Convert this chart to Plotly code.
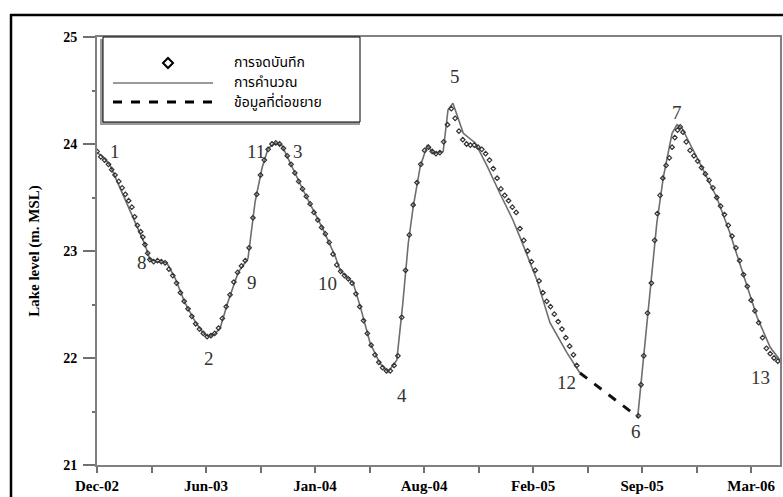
import plotly.graph_objects as go

# ---------------- data ----------------
obs_dates = [
    "2002-12-11", "2002-12-18", "2002-12-25", "2003-01-01", "2003-01-07", "2003-01-13", "2003-01-20",
    "2003-01-26", "2003-02-01", "2003-02-07", "2003-02-13", "2003-02-18", "2003-02-23", "2003-03-01",
    "2003-03-05", "2003-03-09", "2003-03-14", "2003-03-18", "2003-03-25", "2003-04-01", "2003-04-08",
    "2003-04-15", "2003-04-22", "2003-04-29", "2003-05-06", "2003-05-13", "2003-05-20", "2003-05-27",
    "2003-06-03", "2003-06-10", "2003-06-17", "2003-06-24", "2003-07-01", "2003-07-08", "2003-07-15",
    "2003-07-22", "2003-07-29", "2003-08-05", "2003-08-12", "2003-08-19", "2003-08-26", "2003-09-02",
    "2003-09-09", "2003-09-16", "2003-09-23", "2003-09-30", "2003-10-07", "2003-10-14", "2003-10-21",
    "2003-10-28", "2003-11-04", "2003-11-11", "2003-11-18", "2003-11-25", "2003-12-02", "2003-12-09",
    "2003-12-16", "2003-12-23", "2003-12-30", "2004-01-06", "2004-01-13", "2004-01-20", "2004-01-27",
    "2004-02-03", "2004-02-10", "2004-02-17", "2004-02-24", "2004-03-02", "2004-03-09", "2004-03-16",
    "2004-03-23", "2004-03-30", "2004-04-06", "2004-04-13", "2004-04-20", "2004-04-27", "2004-05-04",
    "2004-05-11", "2004-05-18", "2004-05-25", "2004-06-01", "2004-06-08", "2004-06-15", "2004-06-22",
    "2004-06-29", "2004-07-06", "2004-07-13", "2004-07-20", "2004-07-27", "2004-08-03", "2004-08-10",
    "2004-08-17", "2004-08-24", "2004-08-31", "2004-09-07", "2004-09-14", "2004-09-21", "2004-09-28",
    "2004-10-05", "2004-10-12", "2004-10-19", "2004-10-26", "2004-11-02", "2004-11-09", "2004-11-16",
    "2004-11-23", "2004-11-30", "2004-12-07", "2004-12-14", "2004-12-21", "2004-12-28", "2005-01-04",
    "2005-01-11", "2005-01-18", "2005-01-25", "2005-02-01", "2005-02-08", "2005-02-15", "2005-02-22",
    "2005-03-01", "2005-03-08", "2005-03-15", "2005-03-22", "2005-03-29", "2005-04-05", "2005-04-12",
    "2005-04-19", "2005-04-26", "2005-05-03", "2005-05-09",
    "2005-08-30", "2005-09-04", "2005-09-09", "2005-09-16", "2005-09-23", "2005-09-29", "2005-10-04",
    "2005-10-09", "2005-10-14", "2005-10-20", "2005-10-26", "2005-10-31", "2005-11-05", "2005-11-10",
    "2005-11-15", "2005-11-20", "2005-11-26", "2005-12-03", "2005-12-10", "2005-12-17", "2005-12-24",
    "2005-12-31", "2006-01-07", "2006-01-14", "2006-01-21", "2006-01-28", "2006-02-04", "2006-02-11",
    "2006-02-18", "2006-02-25", "2006-03-04", "2006-03-11", "2006-03-18", "2006-03-25", "2006-04-01",
    "2006-04-08", "2006-04-15", "2006-04-22", "2006-04-29", "2006-05-06", "2006-05-13",
]
obs_level = [
    23.93, 23.88, 23.85, 23.81, 23.76, 23.71, 23.65,
    23.59, 23.53, 23.47, 23.41, 23.32, 23.24, 23.18,
    23.13, 23.06, 22.98, 22.92, 22.90, 22.91, 22.90,
    22.89, 22.83, 22.77, 22.70, 22.61, 22.53, 22.46,
    22.39, 22.32, 22.27, 22.23, 22.20, 22.21, 22.23,
    22.28, 22.37, 22.48, 22.59, 22.71, 22.80, 22.86,
    22.91, 23.03, 23.31, 23.53, 23.71, 23.85, 23.95,
    24.00, 24.01, 24.00, 23.96, 23.89, 23.81, 23.73,
    23.65, 23.58, 23.51, 23.44, 23.36, 23.29, 23.22,
    23.16, 23.08, 22.97, 22.87, 22.81, 22.77, 22.74,
    22.70, 22.60, 22.48, 22.35, 22.23, 22.12, 22.03,
    21.96, 21.91, 21.88, 21.88, 21.93, 22.02, 22.38,
    22.82, 23.15, 23.43, 23.64, 23.81, 23.94, 23.97,
    23.93, 23.91, 23.92, 24.02, 24.18, 24.33, 24.24,
    24.12, 24.04, 24.00, 23.99, 23.99, 23.97, 23.95,
    23.91, 23.85, 23.77, 23.68, 23.58, 23.52, 23.47,
    23.41, 23.36, 23.21, 23.10, 23.00, 22.90, 22.82,
    22.72, 22.61, 22.53, 22.48, 22.41, 22.34, 22.27,
    22.19, 22.11, 22.03, 21.93,
    21.46, 21.75, 22.02, 22.42, 22.70, 23.10, 23.35,
    23.52, 23.68, 23.80, 23.87, 23.97, 24.06, 24.13,
    24.16, 24.11, 24.02, 23.94, 23.89, 23.84, 23.78,
    23.72, 23.66, 23.59, 23.50, 23.42, 23.34, 23.24,
    23.14, 23.03, 22.91, 22.78, 22.67, 22.54, 22.44,
    22.33, 22.19, 22.09, 22.04, 22.00, 21.97,
]

calc_dates = [
    "2002-12-11", "2002-12-22", "2003-01-04", "2003-01-26", "2003-02-19", "2003-03-09", "2003-03-18",
    "2003-04-02", "2003-04-18", "2003-05-03", "2003-05-21", "2003-06-09", "2003-06-23", "2003-07-03",
    "2003-07-14", "2003-07-25", "2003-08-08", "2003-08-27", "2003-09-14", "2003-09-27", "2003-10-10",
    "2003-10-21", "2003-11-03", "2003-11-15", "2003-12-24", "2004-01-30", "2004-02-21", "2004-03-01",
    "2004-03-25", "2004-04-07", "2004-04-25", "2004-05-13", "2004-05-28", "2004-06-13", "2004-06-24",
    "2004-07-04", "2004-07-13", "2004-07-26", "2004-08-08", "2004-08-19", "2004-09-06", "2004-09-15",
    "2004-09-24", "2004-10-13", "2004-11-04", "2004-11-26", "2004-12-19", "2005-01-12", "2005-01-25",
    "2005-02-25", "2005-03-21", "2005-04-21", "2005-05-15", "2005-07-01",
    "2005-08-29", "2005-09-07", "2005-09-20", "2005-10-03", "2005-10-15", "2005-10-31", "2005-11-09",
    "2005-11-18", "2005-12-21", "2006-01-21", "2006-02-14", "2006-03-10", "2006-04-05", "2006-04-29",
    "2006-05-17",
]
calc_level = [
    23.92, 23.88, 23.80, 23.55, 23.28, 23.06, 22.92,
    22.90, 22.89, 22.75, 22.52, 22.34, 22.24, 22.20,
    22.22, 22.28, 22.52, 22.80, 22.93, 23.46, 23.78,
    23.96, 24.01, 23.99, 23.57, 23.20, 22.95, 22.82,
    22.70, 22.48, 22.14, 21.95, 21.87, 21.98, 22.51,
    23.07, 23.41, 23.79, 23.99, 23.91, 23.93, 24.32,
    24.38, 24.10, 24.01, 23.79, 23.54, 23.29, 23.13,
    22.73, 22.33, 22.05, 21.86, None,
    21.45, 21.92, 22.54, 23.26, 23.69, 24.10, 24.18,
    24.15, 23.82, 23.50, 23.17, 22.79, 22.38, 22.10,
    21.98,
]

ext_dates = ["2005-05-15", "2005-08-29"]
ext_level = [21.86, 21.45]

point_labels = ["1", "2", "3", "4", "5", "6", "7", "8", "9", "10", "11", "12", "13"]
point_dates = ["2003-01-13", "2003-07-05", "2003-12-15", "2004-06-22", "2004-09-28", "2005-08-25",
               "2005-11-09", "2003-03-04", "2003-09-21", "2004-02-06", "2003-09-29", "2005-04-21",
               "2006-04-11"]
point_levels = [23.93, 22.00, 23.93, 21.65, 24.63, 21.31, 24.29, 22.89, 22.71, 22.70, 23.93, 21.77, 21.82]

tick_dates = ["2002-12-11", "2003-03-21", "2003-06-29", "2003-10-07", "2004-01-15", "2004-04-24",
              "2004-08-02", "2004-11-10", "2005-02-18", "2005-05-29", "2005-09-06", "2005-12-15",
              "2006-03-25"]
tick_labels = ["Dec-02", "", "Jun-03", "", "Jan-04", "", "Aug-04", "", "Feb-05", "", "Sep-05", "", "Mar-06"]

legend_names = ["การจดบันทึก", "การคำนวณ", "ข้อมูลที่ต่อขยาย"]
y_title = "Lake level (m. MSL)"

# ---------------- figure ----------------
W, H = 783, 497
L, R, T, B = 97, 3, 37, 32
PW, PH = W - L - R, H - T - B


def px(x):
    return (x - L) / PW


def py(y):
    return (H - B - y) / PH


fig = go.Figure()

fig.add_trace(go.Scatter(
    x=calc_dates, y=calc_level, mode="lines", name=legend_names[1],
    line=dict(color="#6e6e6e", width=1.6), connectgaps=False, showlegend=False,
))
fig.add_trace(go.Scatter(
    x=obs_dates, y=obs_level, mode="markers", name=legend_names[0],
    marker=dict(symbol="diamond-open", size=3.5, color="#333333", line=dict(width=1.2, color="#333333")),
    showlegend=False,
))
fig.add_trace(go.Scatter(
    x=ext_dates, y=ext_level, mode="lines", name=legend_names[2],
    line=dict(color="#111111", width=3, dash="dash"), showlegend=False,
))

for t, d, v in zip(point_labels, point_dates, point_levels):
    fig.add_annotation(x=d, y=v, xref="x", yref="y", text=t, showarrow=False,
                       font=dict(family="Liberation Serif", size=19, color="#333333"))

shapes = []
# outer frame (top and left)
shapes.append(dict(type="line", xref="paper", yref="paper", x0=px(10), x1=px(800), y0=py(15), y1=py(15),
                   line=dict(color="black", width=2.5)))
shapes.append(dict(type="line", xref="paper", yref="paper", x0=px(11), x1=px(11), y0=py(14), y1=py(510),
                   line=dict(color="black", width=2.5)))
# legend box with shadow
shapes.append(dict(type="rect", xref="paper", yref="paper", x0=px(101), x1=px(359), y0=py(124), y1=py(40),
                   line=dict(color="#9a9a9a", width=2), fillcolor="#9a9a9a", layer="above"))
shapes.append(dict(type="rect", xref="paper", yref="paper", x0=px(103), x1=px(360), y0=py(122), y1=py(37),
                   line=dict(color="black", width=1), fillcolor="white", layer="above"))
# legend symbols
cx, cy, s = 168, 63, 5
shapes.append(dict(type="path", xref="paper", yref="paper",
                   path=f"M {px(cx)} {py(cy - s)} L {px(cx + s)} {py(cy)} L {px(cx)} {py(cy + s)} L {px(cx - s)} {py(cy)} Z",
                   line=dict(color="black", width=2), fillcolor="white", layer="above"))
shapes.append(dict(type="line", xref="paper", yref="paper", x0=px(113), x1=px(213), y0=py(83), y1=py(83),
                   line=dict(color="#9a9a9a", width=2), layer="above"))
shapes.append(dict(type="line", xref="paper", yref="paper", x0=px(113), x1=px(213), y0=py(102), y1=py(102),
                   line=dict(color="black", width=3, dash="dash"), layer="above"))
fig.update_layout(shapes=shapes)

for name, yy in zip(legend_names, [63, 83, 102]):
    fig.add_annotation(x=px(232), y=py(yy), xref="paper", yref="paper", text=name, showarrow=False,
                       xanchor="left", yanchor="middle",
                       font=dict(family="Noto Sans Thai, Tahoma, Noto Sans, sans-serif", size=14, color="black"))

fig.update_xaxes(
    type="date", range=["2002-12-11", "2006-05-17"],
    tickmode="array", tickvals=tick_dates, ticktext=tick_labels,
    ticks="outside", ticklen=6, tickwidth=1.5, tickcolor="#707070",
    showline=True, linecolor="#808080", linewidth=2, mirror=True,
    showgrid=False, zeroline=False, ticklabelstandoff=0,
    tickfont=dict(family="Liberation Serif", size=15, color="black", weight="bold"),
    automargin=False,
)
fig.update_yaxes(
    range=[21, 25], tickmode="array", tickvals=[21, 22, 23, 24, 25],
    ticks="outside", ticklen=12, tickwidth=1.5, tickcolor="#707070",
    minor=dict(dtick=0.5, ticks="outside", ticklen=3, tickcolor="#707070"),
    showline=True, linecolor="#808080", linewidth=2, mirror=True,
    showgrid=False, zeroline=False, ticklabelstandoff=3,
    tickfont=dict(family="Liberation Serif", size=14, color="black", weight="bold"),
    title=dict(text=y_title, standoff=20,
               font=dict(family="Liberation Serif", size=15, color="black", weight="bold")),
    automargin=False,
)
fig.update_layout(
    width=W, height=H, margin=dict(l=L, r=R, t=T, b=B),
    paper_bgcolor="white", plot_bgcolor="white", showlegend=False,
)

# remove the default page margin so the 783x497 figure fills the window exactly
fig.write_html("out.html", config={"displayModeBar": False},
               post_script="document.body.style.margin='0';document.body.style.overflow='hidden';")
